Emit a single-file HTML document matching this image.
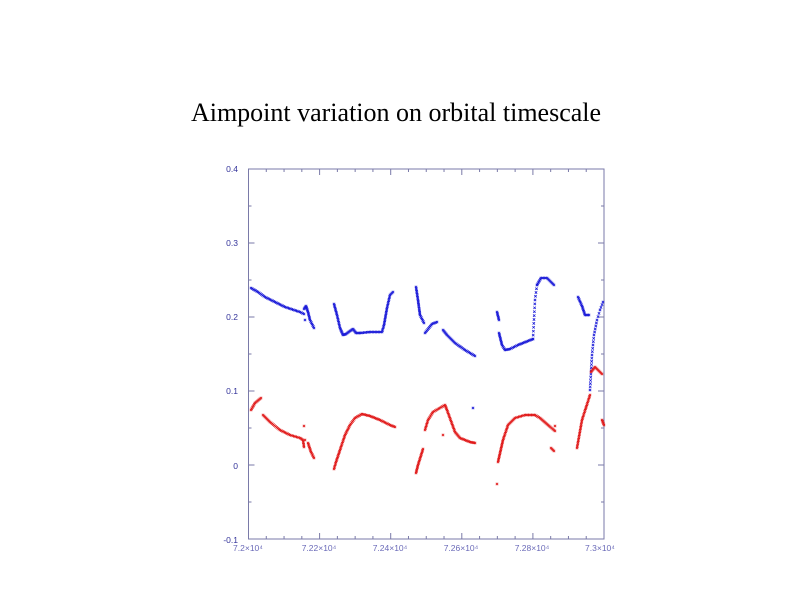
<!DOCTYPE html>
<html><head><meta charset="utf-8"><style>
html,body{margin:0;padding:0;background:#fff;width:792px;height:612px;overflow:hidden}
svg{display:block}
</style></head><body>
<svg id="s" width="792" height="612" xmlns="http://www.w3.org/2000/svg">
<text x="396" y="121" text-anchor="middle" font-family="Liberation Serif, serif" font-size="26" fill="#000">Aimpoint variation on orbital timescale</text>
<rect x="248.5" y="169" width="355.5" height="370" fill="none" stroke="#7a7aa8" stroke-width="1"/>
<g id="ax" stroke="#7a7aa8" stroke-width="1"></g>
<g font-family="Liberation Sans, sans-serif" font-size="8.5" fill="#33339a">
<text x="238" y="172" text-anchor="end">0.4</text>
<text x="238" y="246" text-anchor="end">0.3</text>
<text x="238" y="320" text-anchor="end">0.2</text>
<text x="238" y="394" text-anchor="end">0.1</text>
<text x="238" y="469" text-anchor="end">0</text>
<text x="238" y="543" text-anchor="end">-0.1</text>
</g>
<g font-family="Liberation Sans, sans-serif" font-size="8.5" fill="#6a6ab8" text-anchor="middle">
<text x="248" y="551">7.2×10⁴</text>
<text x="319" y="551">7.22×10⁴</text>
<text x="390" y="551">7.24×10⁴</text>
<text x="461" y="551">7.26×10⁴</text>
<text x="532" y="551">7.28×10⁴</text>
<text x="600" y="551">7.3×10⁴</text>
</g>
<g id="blue" stroke="#1a1ad8" stroke-width="0.8"></g>
<g id="red" stroke="#e01818" stroke-width="0.8"></g>
</svg>
<script>
var NS="http://www.w3.org/2000/svg";
function ln(g,x1,y1,x2,y2){var l=document.createElementNS(NS,"line");l.setAttribute("x1",x1);l.setAttribute("y1",y1);l.setAttribute("x2",x2);l.setAttribute("y2",y2);g.appendChild(l);}
var ax=document.getElementById("ax");
for(var i=0;i<=10;i++){var y=169+i*37;var L=(i%2==0)?6:3;ln(ax,248.5,y,248.5+L,y);ln(ax,604,y,604-L,y);}
for(var i=0;i<=20;i++){var x=248.5+i*17.775;var L=(i%4==0)?6:3;ln(ax,x,539,x,539-L);ln(ax,x,169,x,169+L);}
function mark(g,x,y){var s=1.2;ln(g,x-s,y-s,x+s,y+s);ln(g,x-s,y+s,x+s,y-s);}
function seg(g,pts,step){step=step||1.5;for(var i=0;i<pts.length-1;i++){var a=pts[i],b=pts[i+1];var d=Math.hypot(b[0]-a[0],b[1]-a[1]);var n=Math.max(1,Math.ceil(d/step));for(var k=0;k<n;k++){var t=k/n;mark(g,a[0]+(b[0]-a[0])*t,a[1]+(b[1]-a[1])*t);}}var e=pts[pts.length-1];mark(g,e[0],e[1]);}
var B=document.getElementById("blue"),R=document.getElementById("red");
[[[251,288],[258,292],[265,297],[275,302],[285,307],[300,312],[304,314]],
[[304,309],[306,306],[308,312],[310,320],[314,328]],
[[305,320]],
[[334,304],[337,315],[340,328],[343,335],[346,334],[350,331],[353,329],[356,333],[360,333],[370,332],[382,332],[384,325],[387,308],[390,295],[393,292]],
[[416,287],[418,300],[420,315],[424,323]],
[[425,333],[432,324],[437,322]],
[[443,330],[447,335],[455,343],[465,350],[475,356]],
[[497,312],[499,320]],
[[499,333],[502,345],[505,350],[510,349],[518,345],[528,341],[533,339]],
[[537,285],[541,278],[547,278],[554,285]],
[[578,297],[582,306],[585,315],[589,315]]
].forEach(function(p){seg(B,p);});
seg(B,[[533,339],[535,300],[537,285]],4);
seg(B,[[590,390],[592,355],[594,335],[597,320],[600,310],[603,302]],3.5);
[[[251,410],[255,403],[261,398]],
[[263,415],[270,422],[280,430],[290,435],[300,438],[303,440],[304,447]],
[[304,426]],[[305,440]],
[[308,443],[311,452],[314,458]],
[[334,469],[336,462],[340,450],[345,435],[350,425],[355,418],[362,414],[370,416],[380,420],[390,425],[395,427]],
[[416,473],[418,465],[423,449]],
[[425,430],[428,420],[433,412],[445,405],[447,410],[455,432],[460,438],[470,442],[475,443]],
[[443,435]],
[[498,462],[503,440],[508,425],[515,418],[525,415],[535,415],[540,418],[548,425],[555,431]],
[[555,426]],[[551,448],[554,451]],[[497,484]],
[[577,448],[582,420],[590,395]],
[[591,372],[595,367],[600,372],[602,374]],
[[602,420],[604,425]]
].forEach(function(p){seg(R,p);});
mark(B,473,408);
</script>
</body></html>
